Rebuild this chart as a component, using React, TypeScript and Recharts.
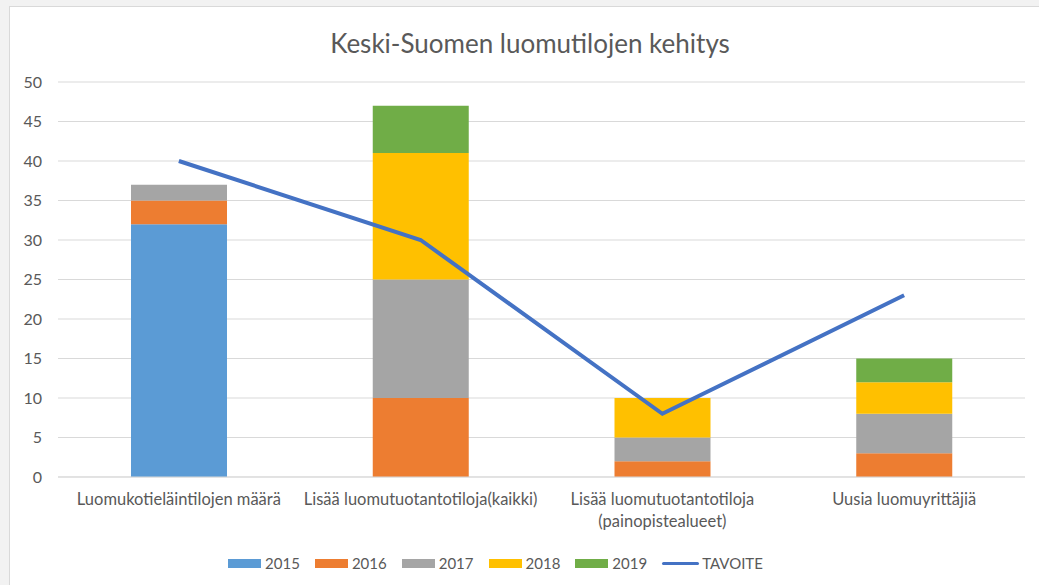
import React from "react";
import { ComposedChart, Bar, Line, XAxis, YAxis, CartesianGrid, Legend } from "recharts";

const categories = [
  "Luomukotieläintilojen määrä",
  "Lisää luomutuotantotiloja(kaikki)",
  "Lisää luomutuotantotiloja\n(painopistealueet)",
  "Uusia luomuyrittäjiä",
];
const v2015 = [32, 0, 0, 0];
const v2016 = [3, 10, 2, 3];
const v2017 = [2, 15, 3, 5];
const v2018 = [0, 16, 5, 4];
const v2019 = [0, 6, 0, 3];
const tavoite = [40, 30, 8, 23];
const yTicks = [0, 5, 10, 15, 20, 25, 30, 35, 40, 45, 50];

const series = [
  { key: "2015", values: v2015, color: "#5B9BD5" },
  { key: "2016", values: v2016, color: "#ED7D31" },
  { key: "2017", values: v2017, color: "#A5A5A5" },
  { key: "2018", values: v2018, color: "#FFC000" },
  { key: "2019", values: v2019, color: "#70AD47" },
];
const lineColor = "#4472C4";

const data = categories.map((name, i) => {
  const row: Record<string, string | number> = { name, TAVOITE: tavoite[i] };
  series.forEach((s) => (row[s.key] = s.values[i]));
  return row;
});

const FONT = "Lato, 'Open Sans', sans-serif";
const textColor = "#595959";

function CategoryTick(props: any) {
  const { x, y, payload } = props;
  const lines = String(payload.value).split("\n");
  return (
    <g transform={`translate(${x},${y})`}>
      {lines.map((l, i) => (
        <text
          key={i}
          x={0}
          y={20 + i * 22}
          textAnchor="middle"
          fill={textColor}
          fontSize={16.5}
          fontFamily={FONT}
        >
          {l}
        </text>
      ))}
    </g>
  );
}

function LegendContent() {
  return (
    <div
      style={{
        display: "flex",
        justifyContent: "center",
        alignItems: "center",
        gap: 15,
        fontFamily: FONT,
        fontSize: 15,
        color: textColor,
        height: 20,
        paddingRight: 44,
      }}
    >
      {series.map((s) => (
        <div key={s.key} style={{ display: "flex", alignItems: "center" }}>
          <span style={{ width: 33, height: 9, background: s.color, marginRight: 4, display: "inline-block" }} />
          <span>{s.key}</span>
        </div>
      ))}
      <div style={{ display: "flex", alignItems: "center" }}>
        <span style={{ width: 37, height: 3, borderRadius: 2, background: lineColor, marginRight: 3, display: "inline-block" }} />
        <span>TAVOITE</span>
      </div>
    </div>
  );
}

export default function App() {
  return (
    <div style={{ position: "absolute", left: 0, top: 0, width: 1039, height: 585, background: "#f2f2f2", overflow: "hidden" }}>
      <div
        style={{
          position: "absolute",
          left: 9,
          top: 6,
          width: 1030,
          height: 579,
          background: "#fff",
          borderLeft: "1px solid #d9d9d9",
          borderTop: "1px solid #d9d9d9",
          boxSizing: "border-box",
        }}
      >
        <ComposedChart
          width={1029}
          height={578}
          data={data}
          margin={{ top: 75, right: 14, left: 0, bottom: 12 }}
        >
          <text x={520} y={46} textAnchor="middle" fontSize={26} fill={textColor} fontFamily={FONT}>
            Keski-Suomen luomutilojen kehitys
          </text>
          <CartesianGrid vertical={false} stroke="#d9d9d9" strokeWidth={1} />
          <XAxis
            dataKey="name"
            tick={<CategoryTick />}
            tickLine={false}
            axisLine={{ stroke: "#d9d9d9" }}
            height={76}
            interval={0}
          />
          <YAxis
            domain={[0, 50]}
            ticks={yTicks}
            width={48}
            tickLine={false}
            axisLine={false}
            tickSize={0}
            tickMargin={16}
            tick={{ fill: textColor, fontSize: 16, fontFamily: FONT }}
          />
          {series.map((s) => (
            <Bar key={s.key} dataKey={s.key} stackId="a" fill={s.color} barSize={96} isAnimationActive={false} />
          ))}
          <Line
            dataKey="TAVOITE"
            type="linear"
            stroke={lineColor}
            strokeWidth={4}
            dot={false}
            activeDot={false}
            isAnimationActive={false}
          />
          <Legend verticalAlign="bottom" height={20} content={<LegendContent />} />
        </ComposedChart>
      </div>
    </div>
  );
}
